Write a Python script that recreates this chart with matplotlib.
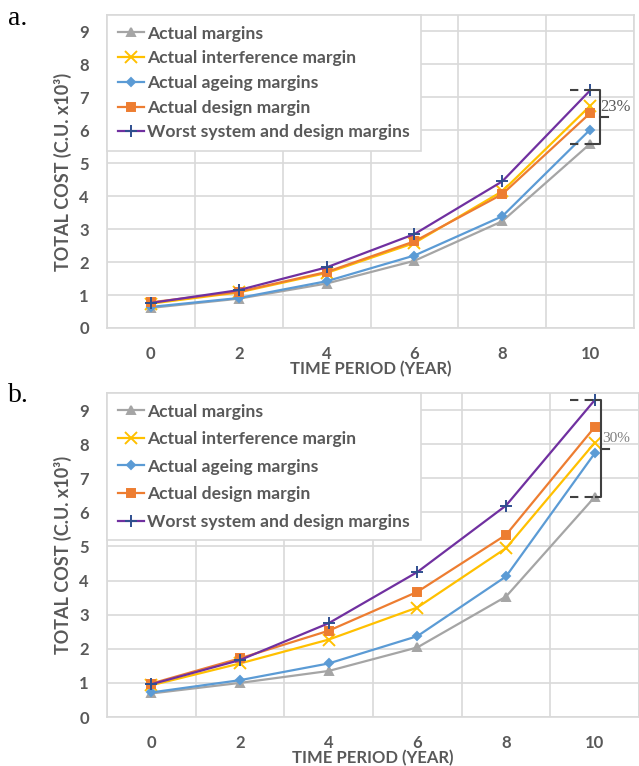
import matplotlib
matplotlib.use("Agg")
import matplotlib.pyplot as plt
import numpy as np

plt.rcParams['font.family'] = ['Lato', 'DejaVu Sans']

# time periods (years), drawn as categories
years = [0, 2, 4, 6, 8, 10]
series_names = ["Actual margins", "Actual interference margin", "Actual ageing margins",
                "Actual design margin", "Worst system and design margins"]

# panel a values (C.U. x10^3)
a_actual = [0.61, 0.89, 1.35, 2.04, 3.24, 5.59]
a_interf = [0.74, 1.08, 1.67, 2.58, 4.15, 6.74]
a_ageing = [0.64, 0.91, 1.42, 2.20, 3.39, 6.02]
a_design = [0.78, 1.10, 1.70, 2.63, 4.06, 6.52]
a_worst = [0.76, 1.15, 1.84, 2.85, 4.45, 7.21]

# panel b values
b_actual = [0.69, 1.00, 1.35, 2.04, 3.53, 6.45]
b_interf = [0.93, 1.57, 2.27, 3.21, 4.95, 8.04]
b_ageing = [0.72, 1.08, 1.57, 2.37, 4.12, 7.73]
b_design = [0.98, 1.72, 2.53, 3.67, 5.34, 8.50]
b_worst = [0.96, 1.67, 2.75, 4.25, 6.20, 9.29]

pct_labels = ["23%", "30%"]

colors = ['#a5a5a5', '#ffc000', '#5b9bd5', '#ed7d31', '#7030a0']
markers = ['^', 'x', 'D', 's', '+']
msizes = [6, 8, 4.5, 6, 8]
grid_col = '#d9d9d9'
txt_col = '#595959'

W, H = 639, 766
fig = plt.figure(figsize=(W / 100, H / 100), dpi=100)


def make_axes(left, top, right, bottom):
    return fig.add_axes([left / W, (H - bottom) / H, (right - left) / W, (bottom - top) / H])


def draw_panel(ax, data, pct, pct_col, pct_size, br_x, dash_x0, labelspacing, txt_dy):
    x = np.arange(len(years))
    for vals, name, c, m, ms in zip(data, series_names, colors, markers, msizes):
        mec = '#2f4f8f' if m == '+' else c
        ax.plot(x, vals, color=c, lw=1.6, marker=m, ms=ms, mfc=c, mec=mec, mew=1.4, label=name)
    ax.set_xlim(-0.5, len(years) - 0.5)
    ax.set_ylim(0, 9.5)
    ax.set_yticks(range(0, 10))
    ax.set_xticks(x)
    ax.set_xticklabels([str(y) for y in years])
    ax.set_xticks(np.arange(-0.5, len(years), 1), minor=True)
    ax.grid(which='minor', axis='x', color=grid_col, lw=1.2)
    ax.grid(which='major', axis='y', color=grid_col, lw=1.2)
    ax.set_axisbelow(True)
    ax.tick_params(which='both', length=0, pad=13, labelsize=12, labelcolor=txt_col)
    for t in ax.get_xticklabels() + ax.get_yticklabels():
        t.set_fontweight('bold')
    for s in ax.spines.values():
        s.set_color(grid_col)
        s.set_linewidth(1.2)
    ax.set_xlabel("TIME PERIOD (YEAR)", fontsize=12, fontweight='bold', color=txt_col, labelpad=-1)
    ax.set_ylabel("TOTAL COST (C.U. x10³)", fontsize=13, fontweight='bold', color=txt_col, labelpad=5)
    leg = ax.legend(loc='upper left', bbox_to_anchor=(0, 1), borderaxespad=0, fancybox=False,
                    edgecolor=grid_col, framealpha=1, handlelength=1.5, handletextpad=0.2,
                    labelspacing=labelspacing, borderpad=0.6,
                    prop={'size': 12.6, 'weight': 'bold'})
    leg.get_frame().set_linewidth(1.2)
    for t in leg.get_texts():
        t.set_color(txt_col)

    # bracket marking the gap between the worst case and actual margins
    top = data[4][-1]
    bot = data[0][-1]
    mid = (top + bot) / 2
    ax.plot([dash_x0, br_x - 0.06], [top, top], color='#404040', lw=1.5, ls=(0, (4, 3)), clip_on=False)
    ax.plot([dash_x0, br_x - 0.06], [bot, bot], color='#404040', lw=1.5, ls=(0, (4, 3)), clip_on=False)
    ax.plot([br_x - 0.06, br_x, br_x, br_x - 0.06], [top, top, bot, bot], color='#404040', lw=1.5,
            clip_on=False)
    ax.plot([br_x, br_x + 0.09], [mid, mid], color='#404040', lw=1.5, clip_on=False)
    ax.text(br_x + 0.01, mid + txt_dy, pct, fontsize=pct_size, color=pct_col, family='Liberation Serif',
            ha='left', va='center', clip_on=False)


ax_a = make_axes(107, 15, 634, 328)
draw_panel(ax_a, [a_actual, a_interf, a_ageing, a_design, a_worst], pct_labels[0], '#595959', 12,
           5.11, 4.77, 0.5, 0.3)

ax_b = make_axes(107, 393, 639, 717)
draw_panel(ax_b, [b_actual, b_interf, b_ageing, b_design, b_worst], pct_labels[1], '#7f7f7f', 11,
           5.07, 4.72, 0.66, 0.3)

fig.text(8 / W, 1 - 25 / H, "a.", fontsize=20, family='Liberation Serif', va='baseline')
fig.text(8 / W, 1 - 402 / H, "b.", fontsize=20, family='Liberation Serif', va='baseline')

fig.savefig("out.png", dpi=100)
